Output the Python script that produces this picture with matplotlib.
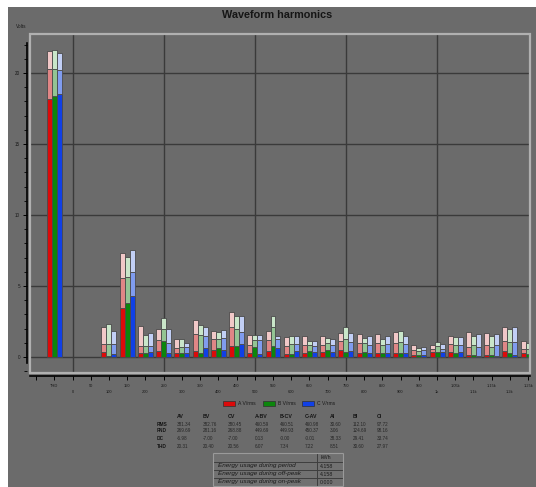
import matplotlib
matplotlib.use("Agg")
import matplotlib.pyplot as plt
from matplotlib.patches import Rectangle
from matplotlib.ticker import FixedLocator, MultipleLocator

W, H = 536, 487
BG = "#6b6b6b"

plt.rcParams["font.family"] = ["Liberation Sans", "DejaVu Sans"]

# ---- harmonic groups: THD, then 100 Hz ... 1250 Hz --------------------------
group_freqs = [-50, 100, 150, 200, 250, 300, 350, 400, 450, 500, 550, 600,
               650, 700, 750, 800, 850, 900, 950, 1000, 1050, 1100, 1150,
               1200, 1250]

# Phase A (volts): lower solid level, middle level, upper level
a_low = [18.20, 0.35, 3.43, 0.30, 0.45, 0.30, 0.40, 0.50, 0.77, 0.30, 0.40,
         0.20, 0.26, 0.35, 0.50, 0.28, 0.28, 0.26, 0.12, 0.35, 0.35, 0.12,
         0.12, 0.42, 0.26]
a_mid = [20.25, 0.92, 5.59, 0.77, 1.20, 0.61, 1.62, 1.24, 2.09, 0.82, 1.20,
         0.80, 0.85, 0.85, 1.15, 0.96, 0.96, 0.96, 0.50, 0.59, 0.92, 0.70,
         0.85, 1.10, 0.59]
a_high = [21.55, 2.09, 7.35, 2.18, 1.95, 1.24, 2.60, 1.85, 3.19, 1.55, 1.85,
          1.38, 1.48, 1.45, 1.66, 1.62, 1.62, 1.73, 0.85, 0.85, 1.48, 1.73,
          1.66, 2.10, 1.10]

# Phase B
b_low = [18.35, 0.08, 3.83, 0.25, 1.15, 0.30, 0.25, 0.61, 0.77, 0.68, 0.80,
         0.22, 0.42, 0.50, 0.35, 0.35, 0.26, 0.26, 0.12, 0.35, 0.26, 0.12,
         0.12, 0.26, 0.20]
b_mid = [20.25, 0.92, 5.66, 0.80, 1.95, 0.68, 1.55, 1.24, 2.00, 1.20, 2.09,
         0.90, 0.85, 0.96, 1.24, 0.96, 0.85, 1.08, 0.42, 0.75, 0.85, 0.85,
         0.70, 1.08, 0.59]
b_high = [21.60, 2.35, 7.07, 1.55, 2.72, 1.24, 2.25, 1.78, 2.89, 1.55, 2.89,
          1.48, 1.15, 1.31, 2.10, 1.31, 1.24, 1.80, 0.66, 1.04, 1.38, 1.48,
          1.45, 2.00, 1.00]

# Phase C
c_low = [18.50, 0.22, 4.30, 0.37, 0.25, 0.25, 0.61, 0.50, 0.89, 0.21, 0.61,
         0.40, 0.35, 0.35, 0.42, 0.26, 0.28, 0.26, 0.12, 0.35, 0.35, 0.05,
         0.05, 0.12, 0.20]
c_mid = [20.20, 0.92, 6.00, 0.77, 1.00, 0.68, 1.48, 1.31, 1.78, 1.20, 1.24,
         0.90, 0.75, 0.85, 1.08, 0.85, 0.92, 0.92, 0.47, 0.59, 0.85, 0.70,
         0.85, 1.08, 0.59]
c_high = [21.40, 1.85, 7.54, 1.71, 1.95, 1.00, 2.09, 1.90, 2.89, 1.55, 1.50,
          1.48, 1.15, 1.24, 1.66, 1.48, 1.48, 1.48, 0.70, 0.92, 1.38, 1.62,
          1.62, 2.10, 1.00]

series_names = ["A V/rms", "B V/rms", "C V/rms"]

# x tick labels, every 50 Hz (upper row / lower row alternate)
xtick_pos = [-100, -50, 0, 50, 100, 150, 200, 250, 300, 350, 400, 450, 500,
             550, 600, 650, 700, 750, 800, 850, 900, 950, 1000, 1050, 1100,
             1150, 1200, 1250]
xtick_text = ["", "THD", "0", "50", "100", "150", "200", "250", "300", "350",
              "400", "450", "500", "550", "600", "650", "700", "750", "800",
              "850", "900", "950", "1k", "1.05k", "1.1k", "1.15k", "1.2k",
              "1.25k"]
ytick_pos = [0, 5, 10, 15, 20]

# summary table
col_heads = ["AV", "BV", "CV", "A-BV", "B-CV", "C-AV", "AI", "BI", "CI"]
row_heads = ["RMS", "FND", "DC", "THD"]
rms_vals = ["381.34", "382.76", "380.45", "460.59", "460.51", "460.98",
            "30.60", "112.10", "97.72"]
fnd_vals = ["269.69", "281.16", "268.88", "449.69", "449.93", "450.37",
            "3.06", "124.69", "98.16"]
dc_vals = ["-6.98", "-7.00", "-7.00", "0.13", "-0.00", "-0.01",
           "38.33", "29.41", "33.74"]
thd_vals = ["20.31", "20.40", "20.56", "6.07", "7.34", "7.22",
            "8.51", "30.60", "27.97"]

energy_labels = ["Energy usage during period",
                 "Energy usage during off-peak",
                 "Energy usage during on-peak"]
energy_kwh = ["4.158", "4.158", "0.000"]

# ---- colours -----------------------------------------------------------------
solid_cols = ["#dc0a0a", "#0c860c", "#1040e6"]
mid_cols = ["#e08686", "#93c493", "#809cef"]
high_cols = ["#f1c8c8", "#c9e6c9", "#c2cff5"]
EDGE = "#4a4a4a"

# ---- figure ------------------------------------------------------------------
fig = plt.figure(figsize=(W / 100, H / 100), dpi=100, facecolor="white")


def fx(px):
    return px / W


def fy(py):
    return 1 - py / H


# grey panel behind everything
fig.patches.append(Rectangle((fx(8), 0), 1 - fx(8), fy(7), transform=fig.transFigure,
                             facecolor=BG, edgecolor="none", zorder=-10))

ax = fig.add_axes([fx(30), fy(373), fx(530) - fx(30), fy(34) - fy(373)])
ax.set_zorder(2)
ax.set_facecolor(BG)
ax.set_xlim(-116.6, 1255)
ax.set_ylim(-1.13, 22.75)

# grid
for gx in [0, 250, 500, 750, 1000]:
    ax.axvline(gx, color="#3a3a3a", lw=1.0, zorder=1)
for gy in ytick_pos:
    ax.axhline(gy, color="#3a3a3a", lw=1.0, zorder=1)

# bars
bw = 13.7
lows = [a_low, b_low, c_low]
mids = [a_mid, b_mid, c_mid]
highs = [a_high, b_high, c_high]
for k in range(3):
    xs = [f + (k - 1) * bw for f in group_freqs]
    lo, mi, hi = lows[k], mids[k], highs[k]
    ax.bar(xs, lo, width=bw, color=solid_cols[k], edgecolor=EDGE, lw=0.6, zorder=3)
    ax.bar(xs, [m - l for m, l in zip(mi, lo)], bottom=lo, width=bw,
           color=mid_cols[k], edgecolor=EDGE, lw=0.6, zorder=3)
    ax.bar(xs, [h - m for h, m in zip(hi, mi)], bottom=mi, width=bw,
           color=high_cols[k], edgecolor=EDGE, lw=0.6, zorder=3)

# frame
ax.add_patch(Rectangle((0, 0), 1, 1, transform=ax.transAxes, fill=False,
                       edgecolor="#b0b0b0", lw=1.6, zorder=5, clip_on=False))

# axes lines
for s in ["top", "right"]:
    ax.spines[s].set_visible(False)
ax.spines["left"].set_position(("outward", 2.2))
ax.spines["bottom"].set_position(("outward", 2.2))
ax.spines["left"].set_bounds(-0.42, 22.1)
for s in ["left", "bottom"]:
    ax.spines[s].set_color("black")
    ax.spines[s].set_linewidth(1.2)

ax.yaxis.set_major_locator(FixedLocator(ytick_pos))
ax.yaxis.set_minor_locator(MultipleLocator(1))
ax.set_yticklabels([str(v) for v in ytick_pos])
ax.tick_params(axis="y", which="major", length=3, width=0.7, pad=2,
               labelsize=3.3, labelcolor="#1a1a1a")
ax.tick_params(axis="y", which="minor", length=2, width=0.6)

ax.set_xticks(xtick_pos)
ax.set_xticklabels([t if i % 2 == 1 else "\n" + t for i, t in enumerate(xtick_text)],
                   linespacing=1.7)
ax.tick_params(axis="x", length=3, width=0.7, pad=3, labelsize=2.9,
               labelcolor="#1a1a1a")

# titles
fig.text(fx(277), fy(15), "Waveform harmonics", ha="center", va="center",
         fontsize=7.8, fontweight="bold", color="#151515")
fig.text(fx(16), fy(27), "Volts", ha="left", va="center", fontsize=3.4,
         color="#1a1a1a")

# legend
leg_x = [223, 263, 302]
for k in range(3):
    fig.patches.append(Rectangle((fx(leg_x[k]), fy(406)), fx(12), 5 / H,
                                 transform=fig.transFigure, facecolor=solid_cols[k],
                                 edgecolor="#303030", lw=0.5))
    fig.text(fx(leg_x[k] + 15), fy(403.5), series_names[k], ha="left", va="center",
             fontsize=3.6, color="#1a1a1a")

# summary table
col_x = [177, 203, 228, 255, 280, 305, 330, 353, 377]
row_y = [424, 431, 439, 446]
for cx, t in zip(col_x, col_heads):
    fig.text(fx(cx), fy(416), t, ha="left", va="center", fontsize=3.8,
             fontweight="bold", color="#151515")
for ry, t, vals in zip(row_y, row_heads, [rms_vals, fnd_vals, dc_vals, thd_vals]):
    fig.text(fx(157), fy(ry), t, ha="left", va="center", fontsize=3.4,
             fontweight="bold", color="#151515")
    for cx, v in zip(col_x, vals):
        fig.text(fx(cx), fy(ry), v, ha="left", va="center", fontsize=3.3,
                 color="#262626")

# energy table
tx0, tx1, tx2 = 213, 317, 343
ty = [453, 462, 470, 478, 486]
cell_fc = "#717171"
for i in range(4):
    for (a, b) in [(tx0, tx1), (tx1, tx2)]:
        fig.patches.append(Rectangle((fx(a), fy(ty[i + 1])), fx(b - a),
                                     (ty[i + 1] - ty[i]) / H,
                                     transform=fig.transFigure, facecolor=cell_fc,
                                     edgecolor="#3a3a3a", lw=0.6))
fig.patches.append(Rectangle((fx(tx0), fy(ty[-1])), fx(tx2 - tx0), (ty[-1] - ty[0]) / H,
                             transform=fig.transFigure, fill=False,
                             edgecolor="#9a9a9a", lw=0.8))
fig.text(fx(326), fy(457.5), "kWh", ha="center", va="center", fontsize=3.8,
         color="#1a1a1a")
for i in range(3):
    yc = (ty[i + 1] + ty[i + 2]) / 2
    fig.text(fx(218), fy(yc), energy_labels[i], ha="left", va="center",
             fontsize=4.6, style="italic", color="#1a1a1a")
    fig.text(fx(320), fy(yc), energy_kwh[i], ha="left", va="center",
             fontsize=3.8, color="#1a1a1a")

fig.savefig("out.png", dpi=100, facecolor=fig.get_facecolor())
